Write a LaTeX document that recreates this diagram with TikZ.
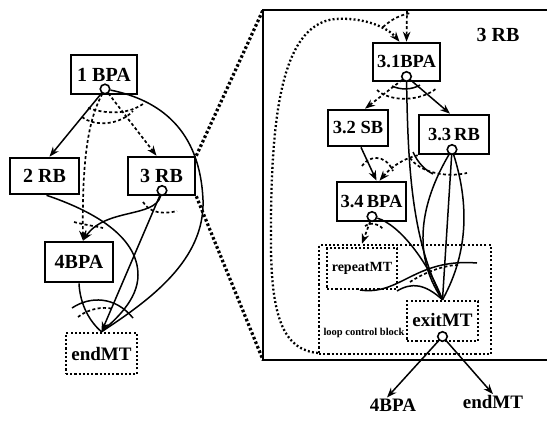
\documentclass[tikz,border=0pt]{standalone}
\usepackage{fontspec}
\setmainfont{Liberation Serif}
\usetikzlibrary{arrows.meta}
\begin{document}
\begin{tikzpicture}[x=1pt,y=-1pt,
  box/.style={draw, line width=2.6pt, fill=white, inner sep=0pt, font=\fontsize{18.5}{18.5}\selectfont\bfseries},
  lbox/.style={box, font=\fontsize{20}{20}\selectfont\bfseries},
  dbox/.style={draw, line width=2.5pt, dash pattern=on 2.1pt off 2.1pt, inner sep=0pt, font=\fontsize{19}{19}\selectfont\bfseries},
  port/.style={circle, draw, line width=1.6pt, fill=white, minimum size=9.5pt, inner sep=0pt},
  conn/.style={line width=1.5pt},
  dconn/.style={line width=1.7pt, dash pattern=on 3pt off 2.4pt},
  zoomline/.style={line width=3.2pt, dash pattern=on 2.6pt off 2.3pt},
  loopline/.style={line width=2.3pt, dash pattern=on 1.9pt off 2.3pt},
  tip/.style={-{Stealth[length=10pt,width=7.5pt]}},
  lbl/.style={font=\fontsize{19}{19}\selectfont\bfseries, inner sep=1pt}
]
\useasboundingbox (0,0) rectangle (547,421);

% ---------- left graph ----------
\node[lbox, minimum width=66pt, minimum height=39pt] (b1) at (104,74.5) {1 BPA};
\node[port] (p1) at (105,89) {};
\node[lbox, minimum width=69pt, minimum height=36pt] (b2) at (44.5,176) {2 RB};
\node[lbox, minimum width=67pt, minimum height=38pt] (b3) at (161.5,176) {3 RB};
\node[port] (p3) at (162,190.5) {};
\node[lbox, minimum width=68pt, minimum height=40pt] (b4) at (79,262) {4BPA};
\node[dbox, minimum width=71pt, minimum height=41pt] (em) at (101.5,353.5) {endMT};

\draw[conn, tip] (p1) -- ([xshift=5pt]b2.north);
\draw[dconn, tip] (p1) -- ([xshift=-5pt]b3.north);
\draw[conn] (p1) .. controls (160,100) and (200,130) .. (203,200) .. controls (205,260) and (150,300) .. (em.north);
\draw[dconn, tip] (p1) .. controls (88,120) and (82,160) .. ([xshift=4pt]b4.north);
\draw[conn] ([xshift=2pt]b2.south) .. controls (90,210) and (138,235) .. (138,275) .. controls (138,300) and (115,320) .. (em.north);
\draw[conn, tip] (p3) .. controls (155,218) and (105,208) .. ([xshift=4pt]b4.north);
\draw[conn, tip] (p3) -- (em.north);
\draw[conn] (b4.south) .. controls (80,305) and (90,322) .. (em.north);
% arc marks (left)
\draw[dconn] (82,117) .. controls (95,127) and (120,125) .. (133,111);
\draw[dconn] (88,108) .. controls (103,113) and (125,116) .. (143,104);
\draw[dconn] (143,202) .. controls (150,214) and (165,214) .. (177,211);
\draw[dconn] (74,222) .. controls (85,225) and (95,226) .. (103,228);
\draw[conn] (72,308) .. controls (90,296) and (115,296) .. (133,318);
\draw[dconn] (78,317) .. controls (88,309) and (103,306) .. (113,309);

% ---------- frame and zoom lines ----------
\coordinate (fTL) at (263,10);
\coordinate (fBL) at (263,360);
\draw[line width=2pt] (547,10) -- (fTL) -- (fBL) -- (547,360);
\draw[zoomline] (b3.north east) -- (fTL);
\draw[zoomline] (b3.south east) -- (fBL);

% ---------- right graph ----------
\node[font=\fontsize{20}{20}\selectfont\bfseries] (t3) at (498,35) {3 RB};
\node[box, minimum width=67pt, minimum height=38pt] (c1) at (406.5,62) {3.1BPA};
\node[port] (pc1) at (406.5,76.5) {};
\node[box, minimum width=60pt, minimum height=36pt] (c2) at (358,128) {3.2 SB};
\node[box, minimum width=70pt, minimum height=39pt] (c3) at (454,134.5) {3.3\,RB};
\node[port] (pc3) at (452,149.5) {};
\node[box, minimum width=69pt, minimum height=39pt] (c4) at (371.5,201.5) {3.4\,BPA};
\node[port] (pc4) at (372,216.5) {};
\node[dbox, minimum width=172pt, minimum height=109pt] (lcb) at (405,299.5) {};
\node[dbox, minimum width=70pt, minimum height=41pt, font=\fontsize{14}{14}\selectfont\bfseries] (rep) at (362,268.5) {repeatMT};
\node[dbox, minimum width=71pt, minimum height=40pt, fill=white] (ex) at (442.5,321) {\raisebox{3pt}{exitMT}};
\node[port] (pex) at (442.5,336.5) {};
\node[font=\fontsize{10.5}{10.5}\selectfont\bfseries, inner sep=0pt] (lcbt) at (364,333) {loop control block};
\node[lbl] (o4) at (393,405) {4BPA};
\node[lbl] (oe) at (493,402) {endMT};

\coordinate (topin) at (407,10);
\coordinate (loopst) at (318,353);
\draw[loopline, tip] (loopst) .. controls (285,350) and (272,320) .. (271,250) .. controls (270,120) and (280,25) .. (335,19) .. controls (365,17) and (388,28) .. ([xshift=-7pt]c1.north);
\draw[dconn, tip] (topin) -- (c1.north);
\draw[dconn] (383,27) .. controls (392,19) and (400,15) .. (411,13);

\draw[dconn, tip] (pc1) -- ([xshift=7pt]c2.north);
\draw[conn, tip] (pc1) -- ([xshift=-4pt]c3.north);
\draw[dconn] (377,90) .. controls (390,102) and (420,102) .. (437,88);
\draw[conn] (392,86) .. controls (400,90) and (412,90) .. (420,85);
\draw[conn] (pc1) .. controls (408,170) and (412,240) .. (ex.north);

\draw[conn, tip] ([xshift=3pt]c2.south) -- ([xshift=5pt]c4.north);
\draw[dconn, tip] (c3.south west) .. controls (405,158) and (392,166) .. ([xshift=8pt]c4.north);
\draw[dconn] (362,166) .. controls (368,156) and (385,153) .. (393,171);

\draw[conn] (413,152) .. controls (418,163) and (425,170) .. (433,174);
\draw[dconn] (410,158) .. controls (420,172) and (445,178) .. (467,173);

\draw[conn] (pc3) .. controls (425,195) and (408,250) .. (ex.north);
\draw[conn] (pc3) -- (ex.north);
\draw[conn] (pc3) .. controls (468,200) and (470,250) .. (ex.north);
\draw[conn] (pc4) .. controls (400,225) and (428,262) .. (ex.north);
\draw[dconn, tip] (pc4) -- ([xshift=-43pt]lcb.north);
\draw[dconn] (365,226) .. controls (370,222) and (378,223) .. (383,229);

\draw[conn] (360,290) .. controls (400,296) and (415,258) .. (477,263);
\draw[conn] (397,291) .. controls (412,282) and (425,284) .. (ex.north);
\draw[dconn] (410,282) .. controls (425,272) and (445,265) .. (458,265);

\draw[conn, tip] (pex) -- ([xshift=-6pt]o4.north);
\draw[conn, tip] (pex) -- (oe.north);
\end{tikzpicture}
\end{document}
